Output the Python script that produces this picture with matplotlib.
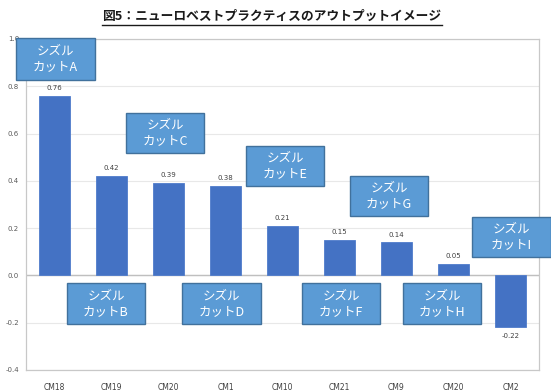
import matplotlib
matplotlib.use("Agg")
import matplotlib.pyplot as plt
from matplotlib.patches import Rectangle

plt.rcParams['font.family'] = ['Noto Sans CJK JP', 'DejaVu Sans']

categories = ["CM18", "CM19", "CM20", "CM1", "CM10", "CM21", "CM9", "CM20", "CM2"]
values = [0.76, 0.42, 0.39, 0.38, 0.21, 0.15, 0.14, 0.05, -0.22]
yticks = [-0.4, -0.2, 0.0, 0.2, 0.4, 0.6, 0.8, 1.0]
ytick_labels = ["-0.4", "-0.2", "0.0", "0.2", "0.4", "0.6", "0.8", "1.0"]
title = "図5：ニューロベストプラクティスのアウトプットイメージ"
box_labels = ["シズル\nカットA", "シズル\nカットB", "シズル\nカットC", "シズル\nカットD",
              "シズル\nカットE", "シズル\nカットF", "シズル\nカットG", "シズル\nカットH",
              "シズル\nカットI"]
# box pixel positions (x0, y0, x1, y1) in image coords
box_px = [(16, 38, 95, 80), (67, 283, 145, 324), (126, 113, 204, 153), (182, 283, 261, 324),
          (246, 146, 324, 186), (302, 283, 380, 324), (350, 176, 428, 216), (403, 283, 481, 324),
          (472, 217, 551, 257)]

W, H = 551, 391
fig = plt.figure(figsize=(W / 100, H / 100), dpi=100)
ax = fig.add_axes([26 / W, 1 - 370 / H, (539 - 26) / W, (370 - 39) / H])

x = list(range(len(categories)))
bars = ax.bar(x, values, width=0.53, color="#4472C4", edgecolor="#4F7CCB", linewidth=0.6, zorder=3)
for xi, v in zip(x, values):
    if v >= 0:
        ax.text(xi, v + 0.02, f"{v:.2f}", ha="center", va="bottom", fontsize=5,
                color="#404040", family="DejaVu Sans")
    else:
        ax.text(xi, v - 0.025, f"{v:.2f}", ha="center", va="top", fontsize=5,
                color="#404040", family="DejaVu Sans")

ax.set_xlim(-0.5, len(categories) - 0.5)
ax.set_ylim(-0.4, 1.0)
ax.set_yticks(yticks)
ax.set_yticklabels(ytick_labels, fontsize=5, color="#595959", family="DejaVu Sans")
ax.set_xticks(x)
ax.set_xticklabels(categories, fontsize=5.5, color="#404040", family="DejaVu Sans")
ax.tick_params(axis="x", length=0, pad=9)
ax.tick_params(axis="y", length=0, pad=5)
ax.grid(axis="y", color="#E8E8E8", linewidth=0.8, zorder=0)
ax.axhline(0, color="#BFBFBF", linewidth=1.0, zorder=2)
for s in ax.spines.values():
    s.set_color("#C8C8C8")
    s.set_linewidth(0.9)

t = fig.text(272 / W, 1 - 16 / H, title, ha="center", va="center", fontsize=9.2,
             fontweight="bold", color="#1a1a1a")
fig.canvas.draw()
bb = t.get_window_extent().transformed(fig.transFigure.inverted())
fig.add_artist(plt.Line2D([bb.x0, bb.x1], [1 - 25 / H, 1 - 25 / H], color="#1a1a1a", linewidth=1.0))

for lab, (x0, y0, x1, y1) in zip(box_labels, box_px):
    r = Rectangle((x0 / W, 1 - y1 / H), (x1 - x0) / W, (y1 - y0) / H, transform=fig.transFigure,
                  facecolor="#5B9BD5", edgecolor="#41719C", linewidth=1.0, zorder=10)
    fig.add_artist(r)
    fig.text((x0 + x1) / 2 / W, 1 - (y0 + y1) / 2 / H, lab, ha="center", va="center",
             fontsize=9, color="white", linespacing=1.25, zorder=11)

fig.savefig("out.png", dpi=100)
